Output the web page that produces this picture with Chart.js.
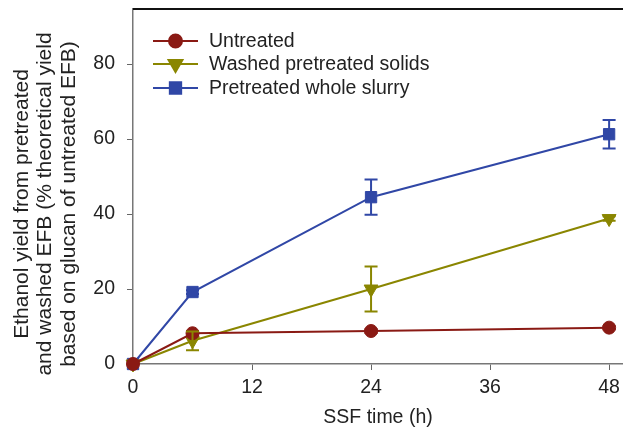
<!DOCTYPE html>
<html>
<head>
<meta charset="utf-8">
<script src="https://cdn.jsdelivr.net/npm/chart.js@4"></script>
<style>
  html, body { margin: 0; padding: 0; background: #fff; }
  #wrap { width: 623px; height: 429px; }
</style>
</head>
<body>
<div id="wrap"><canvas id="chart"></canvas></div>
<script>
// data
const hours = [0, 6, 24, 48];
const untreated = [0, 8.2, 8.8, 9.7];
const untreatedErr = [0, 0.6, 0.5, 0.4];
const washed = [0, 6.2, 20, 38.8];
const washedErr = [0, 2.5, 6, 0.6];
const slurry = [0, 19.2, 44.5, 61.3];
const slurryErr = [0, 0.5, 4.7, 3.8];
const xTicks = [0, 12, 24, 36, 48];
const yTicks = [0, 20, 40, 60, 80];
const seriesNames = ['Untreated', 'Washed pretreated solids', 'Pretreated whole slurry'];
const yTitle = ['Ethanol yield from pretreated', 'and washed EFB (% theoretical yield', 'based on glucan of untreated EFB)'];

const RED = '#8a1a14';
const OLIVE = '#8a8600';
const BLUE = '#3047a6';
const FONT = '"Liberation Sans", Arial, sans-serif';

const toPoints = (ys, errs) => hours.map((h, i) => ({ x: h, y: ys[i], err: errs[i] }));

// error bars drawn through the scales
const errorBars = {
  id: 'errorBars',
  afterDatasetsDraw(chart) {
    const { ctx, scales } = chart;
    chart.data.datasets.forEach((ds) => {
      ctx.save();
      ctx.strokeStyle = ds.borderColor;
      ctx.lineWidth = 2;
      ds.data.forEach((p) => {
        if (!p.err) return;
        const x = scales.x.getPixelForValue(p.x);
        const yt = scales.y.getPixelForValue(p.y + p.err);
        const yb = scales.y.getPixelForValue(p.y - p.err);
        ctx.beginPath();
        ctx.moveTo(x, yt); ctx.lineTo(x, yb);
        ctx.moveTo(x - 6.5, yt); ctx.lineTo(x + 6.5, yt);
        ctx.moveTo(x - 6.5, yb); ctx.lineTo(x + 6.5, yb);
        ctx.stroke();
      });
      ctx.restore();
    });
  }
};

// legend with line + marker, the top frame line and the 3-line y title
const insideLegend = {
  id: 'insideLegend',
  afterDraw(chart) {
    const { ctx, chartArea } = chart;
    ctx.save();
    ctx.strokeStyle = '#111';
    ctx.lineWidth = 2;
    ctx.beginPath();
    ctx.moveTo(chartArea.left, chartArea.top);
    ctx.lineTo(chartArea.right, chartArea.top);
    ctx.stroke();

    const x0 = 153, x1 = 198, tx = 209;
    const ys = [41, 64, 88];
    chart.data.datasets.forEach((ds, i) => {
      const y = ys[i];
      ctx.strokeStyle = ds.borderColor;
      ctx.lineWidth = 2;
      ctx.beginPath();
      ctx.moveTo(x0, y); ctx.lineTo(x1, y);
      ctx.stroke();
      Chart.helpers.drawPoint(ctx, {
        pointStyle: ds.pointStyle,
        rotation: ds.rotation || 0,
        radius: ds.pointRadius,
        borderWidth: 1
      }, (x0 + x1) / 2, y);
      ctx.fillStyle = ds.borderColor;
      ctx.strokeStyle = ds.borderColor;
      ctx.fill();
      ctx.fillStyle = '#222';
      ctx.font = '19.5px ' + FONT;
      ctx.textBaseline = 'middle';
      ctx.textAlign = 'left';
      ctx.fillText(ds.label, tx, y + 1);
    });

    // y axis title, sits a bit below the plot centre in the figure
    ctx.translate(0, 204);
    ctx.rotate(-Math.PI / 2);
    ctx.fillStyle = '#222';
    ctx.font = '21px ' + FONT;
    ctx.textAlign = 'center';
    ctx.textBaseline = 'middle';
    yTitle.forEach((line, i) => ctx.fillText(line, 0, 22 + i * 23.5));
    ctx.restore();
  }
};

new Chart(document.getElementById('chart'), {
  type: 'line',
  data: {
    datasets: [
      {
        label: seriesNames[0], data: toPoints(untreated, untreatedErr),
        borderColor: RED, backgroundColor: RED, pointStyle: 'circle', pointRadius: 6.5
      },
      {
        label: seriesNames[1], data: toPoints(washed, washedErr),
        borderColor: OLIVE, backgroundColor: OLIVE, pointStyle: 'triangle', rotation: 180, pointRotation: 180, pointRadius: 8
      },
      {
        label: seriesNames[2], data: toPoints(slurry, slurryErr),
        borderColor: BLUE, backgroundColor: BLUE, pointStyle: 'rect', pointRadius: 8
      }
    ].map(d => Object.assign({ borderWidth: 2, tension: 0, clip: false, pointBorderWidth: 1 }, d))
  },
  options: {
    responsive: true,
    maintainAspectRatio: false,
    animation: false,
    layout: { autoPadding: false, padding: { top: 9, right: 0, left: 0, bottom: 0 } },
    plugins: { legend: { display: false }, tooltip: { enabled: false } },
    scales: {
      x: {
        type: 'linear', min: 0, max: 49.4,
        afterBuildTicks: (s) => { s.ticks = xTicks.map(v => ({ value: v })); },
        afterFit: (s) => { s.height = 65; s.paddingRight = 0; s.paddingLeft = 0; },
        grid: { drawOnChartArea: false, drawTicks: true, tickLength: 6, color: '#666', tickWidth: 1 },
        border: { color: '#777', width: 1.5 },
        ticks: { color: '#222', font: { family: FONT, size: 19.5 }, padding: 6, maxRotation: 0 },
        title: { display: true, text: 'SSF time (h)', color: '#222', font: { family: FONT, size: 19.5 }, padding: { top: 0, bottom: 0 } }
      },
      y: {
        type: 'linear', min: 0, max: 94.7,
        afterBuildTicks: (s) => { s.ticks = yTicks.map(v => ({ value: v })); },
        afterFit: (s) => { s.width = 133; s.paddingTop = 0; s.paddingBottom = 0; },
        grid: { drawOnChartArea: false, drawTicks: true, tickLength: 6, color: '#666', tickWidth: 1 },
        border: { color: '#777', width: 1.5 },
        ticks: { color: '#222', font: { family: FONT, size: 19.5 }, padding: 12 },
        title: { display: false }
      }
    }
  },
  plugins: [errorBars, insideLegend]
});
</script>
</body>
</html>
